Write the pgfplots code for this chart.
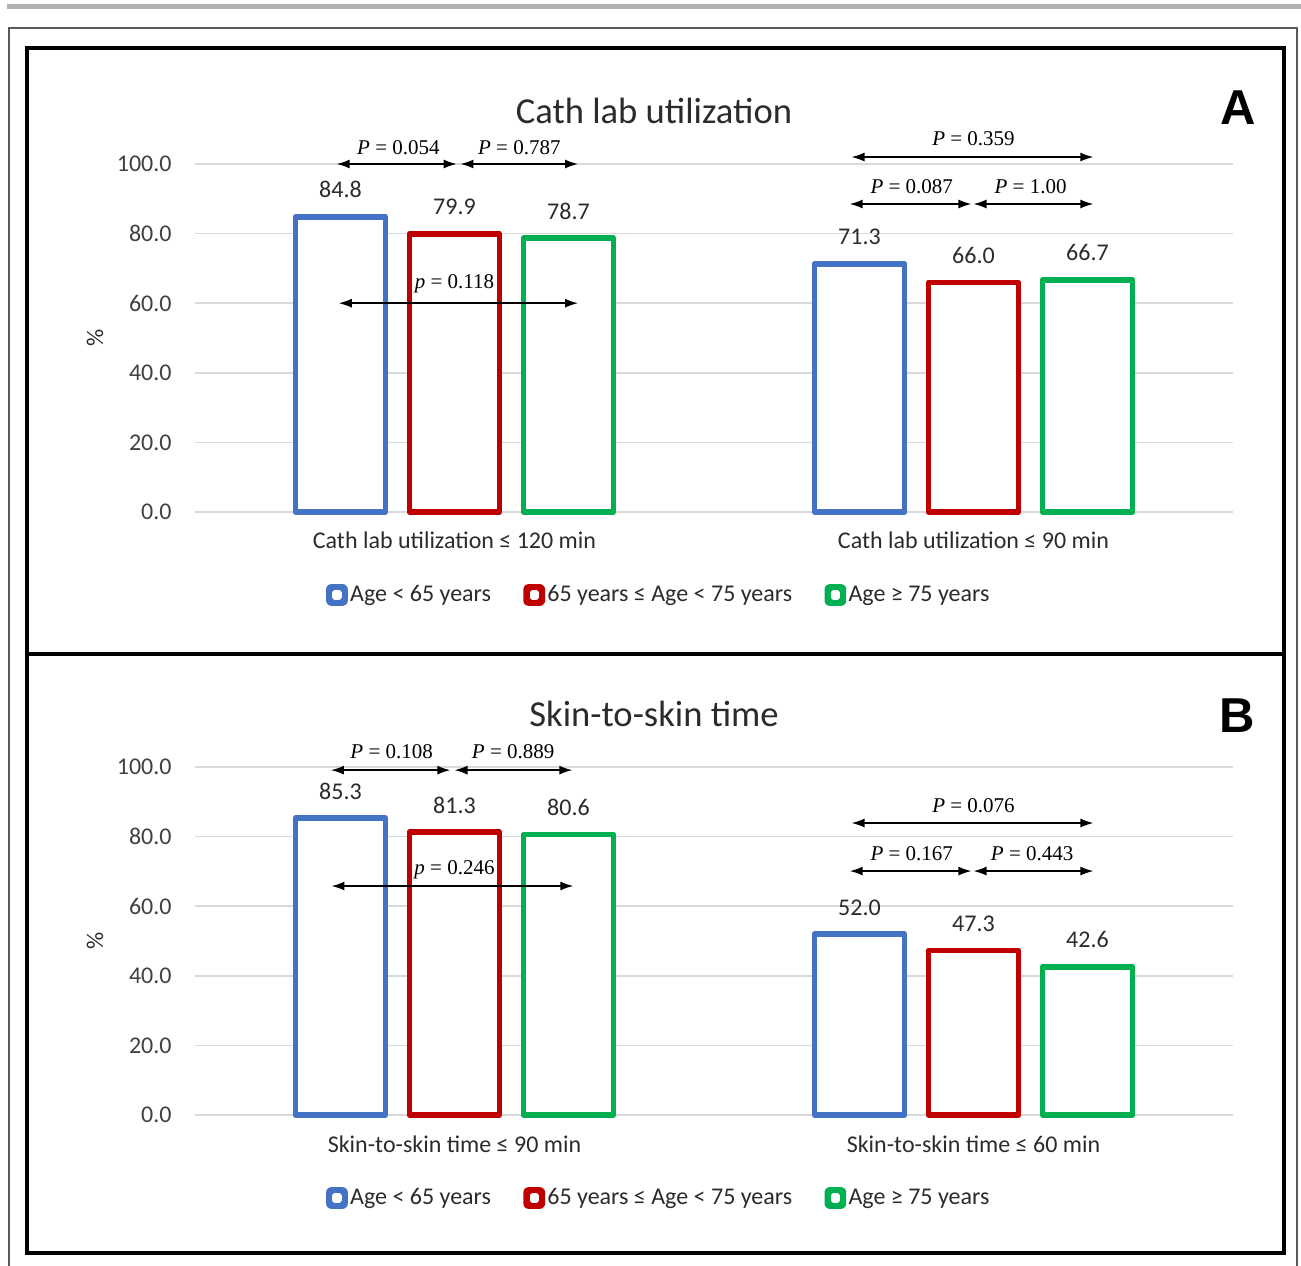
\documentclass[border=0pt]{standalone}
\usepackage{pgfplots}
\pgfplotsset{compat=1.18}
\usepackage{fontspec}
\setmainfont{Carlito}
\newfontfamily\timesfont{Liberation Serif}
\newfontfamily\arialfont{Liberation Sans}
\usetikzlibrary{arrows.meta}
\definecolor{cblue}{HTML}{4472C4}
\definecolor{cred}{HTML}{C00000}
\definecolor{cgreen}{HTML}{00B050}
\definecolor{tick}{HTML}{404040}
\definecolor{txt}{HTML}{2B2B2B}
\definecolor{gridc}{HTML}{D9D9D9}
\tikzset{parr/.style={line width=0.75pt, {Latex[length=6.5pt,width=4.5pt]}-{Latex[length=6.5pt,width=4.5pt]}},
         ptxt/.style={font=\timesfont\fontsize{10.5}{12}\selectfont, inner sep=0pt}}
\pgfplotsset{
 mybar/.style={
  scale only axis, width=519pt, height=174pt, anchor=south west,
  xmin=-0.5, xmax=1.5, ymin=0, ymax=100, clip=false,
  ybar=12pt, bar width=45pt,
  xtick={0,1}, ytick={0,20,...,100},
  axis line style={draw=none}, major tick length=0pt,
  ymajorgrids, grid style={draw=gridc, line width=0.75pt},
  /pgf/number format/assume math mode=true,
  yticklabel style={/pgf/number format/.cd, fixed, fixed zerofill, precision=1, /tikz/.cd, anchor=east, inner sep=0pt, xshift=-11.5pt, font=\fontsize{12}{14}\selectfont, text=tick},
  xticklabel style={anchor=base, inner sep=0pt, yshift=-18.5pt, font=\fontsize{12}{14}\selectfont, text=txt},
  nodes near coords={\pgfmathprintnumber[fixed,fixed zerofill,precision=1,assume math mode=true]{\pgfplotspointmeta}},
  every node near coord/.append style={anchor=south, inner sep=0pt, yshift=8pt, font=\fontsize{12}{14}\selectfont, text=txt},
  ylabel={\%}, ylabel style={at={(axis description cs:-0.0963,0.5)}, anchor=center, font=\fontsize{12}{14}\selectfont, text=txt},
  legend columns=3,
  legend style={at={(0.447,-0.2385)}, anchor=center, draw=none, fill=none, font=\fontsize{12}{14}\selectfont, text=txt,
     nodes={inner sep=1.2pt}, /tikz/every even column/.append style={column sep=15pt}},
  legend cell align=left,
 },
 bblue/.style={draw=cblue, fill=white, line width=2.8pt, line join=round,
   legend image code/.code={\fill[cblue, rounded corners=1pt] (0pt,-4pt) rectangle (8pt,4pt); \fill[white] (3.1pt,-0.9pt) rectangle (4.9pt,0.9pt);}},
 bred/.style={draw=cred, fill=white, line width=2.8pt, line join=round,
   legend image code/.code={\fill[cred, rounded corners=1pt] (0pt,-4pt) rectangle (8pt,4pt); \fill[white] (3.1pt,-0.9pt) rectangle (4.9pt,0.9pt);}},
 bgreen/.style={draw=cgreen, fill=white, line width=2.8pt, line join=round,
   legend image code/.code={\fill[cgreen, rounded corners=1pt] (0pt,-4pt) rectangle (8pt,4pt); \fill[white] (3.1pt,-0.9pt) rectangle (4.9pt,0.9pt);}},
}
\begin{document}
\begin{tikzpicture}
\useasboundingbox (0,0) rectangle (650.5pt,632.5pt);
% top gray bar and outer frame
\fill[gray!60] (3.3pt,628pt) rectangle (650.5pt,630.5pt);
\draw[black!65, line width=0.9pt] (4.5pt,-5pt) -- (4.5pt,618.5pt) -- (648.5pt,618.5pt) -- (648.5pt,-5pt);
% panel frames
\draw[line width=2pt] (13.5pt,6.25pt) rectangle (641.75pt,608.5pt);
\draw[line width=2pt] (13.5pt,305.25pt) -- (641.75pt,305.25pt);
% titles
\node[anchor=base, font=\fontsize{18.3}{20}\selectfont, text=txt] at (327pt,570.5pt) {Cath lab utilization};
\node[anchor=base, font=\arialfont\bfseries\fontsize{24.5}{26}\selectfont] at (619pt,570pt) {A};
\node[anchor=base, font=\fontsize{18.3}{20}\selectfont, text=txt] at (327pt,269pt) {Skin-to-skin time};
\node[anchor=base, font=\arialfont\bfseries\fontsize{24.5}{26}\selectfont] at (618.5pt,266pt) {B};

% Panel A
\begin{axis}[mybar, at={(97.5pt,376.5pt)},
  xticklabels={Cath lab utilization ≤ 120 min, Cath lab utilization ≤ 90 min}]
\addplot[bblue] coordinates {(0,84.8) (1,71.3)};
\addplot[bred] coordinates {(0,79.9) (1,66.0)};
\addplot[bgreen] coordinates {(0,78.7) (1,66.7)};
\legend{Age < 65 years, 65 years ≤ Age < 75 years, Age ≥ 75 years}
\draw[parr] (axis cs:-0.227,100) -- (axis cs:0.004,100);
\node[ptxt] at (axis cs:-0.108,104.6) {\textit{P} = 0.054};
\draw[parr] (axis cs:0.0115,100) -- (axis cs:0.238,100);
\node[ptxt] at (axis cs:0.125,104.6) {\textit{P} = 0.787};
\draw[parr] (axis cs:-0.223,60) -- (axis cs:0.238,60);
\node[ptxt] at (axis cs:0,65.5) {\textit{p} = 0.118};
\draw[parr] (axis cs:0.765,102) -- (axis cs:1.231,102);
\node[ptxt] at (axis cs:1.0,107.2) {\textit{P} = 0.359};
\draw[parr] (axis cs:0.7615,88.5) -- (axis cs:0.996,88.5);
\node[ptxt] at (axis cs:0.881,93.4) {\textit{P} = 0.087};
\draw[parr] (axis cs:1.0,88.5) -- (axis cs:1.231,88.5);
\node[ptxt] at (axis cs:1.11,93.4) {\textit{P} = 1.00};
\end{axis}

% Panel B
\begin{axis}[mybar, at={(97.5pt,75pt)},
  xticklabels={Skin-to-skin time ≤ 90 min, Skin-to-skin time ≤ 60 min}]
\addplot[bblue] coordinates {(0,85.3) (1,52.0)};
\addplot[bred] coordinates {(0,81.3) (1,47.3)};
\addplot[bgreen] coordinates {(0,80.6) (1,42.6)};
\legend{Age < 65 years, 65 years ≤ Age < 75 years, Age ≥ 75 years}
\draw[parr] (axis cs:-0.238,99.1) -- (axis cs:-0.008,99.1);
\node[ptxt] at (axis cs:-0.121,104.3) {\textit{P} = 0.108};
\draw[parr] (axis cs:0,99.1) -- (axis cs:0.227,99.1);
\node[ptxt] at (axis cs:0.113,104.3) {\textit{P} = 0.889};
\draw[parr] (axis cs:-0.237,65.8) -- (axis cs:0.229,65.8);
\node[ptxt] at (axis cs:0,70.4) {\textit{p} = 0.246};
\draw[parr] (axis cs:0.765,83.9) -- (axis cs:1.231,83.9);
\node[ptxt] at (axis cs:1.0,88.8) {\textit{P} = 0.076};
\draw[parr] (axis cs:0.7615,70.1) -- (axis cs:0.996,70.1);
\node[ptxt] at (axis cs:0.881,75) {\textit{P} = 0.167};
\draw[parr] (axis cs:1.0,70.1) -- (axis cs:1.231,70.1);
\node[ptxt] at (axis cs:1.113,75) {\textit{P} = 0.443};
\end{axis}
\end{tikzpicture}
\end{document}
